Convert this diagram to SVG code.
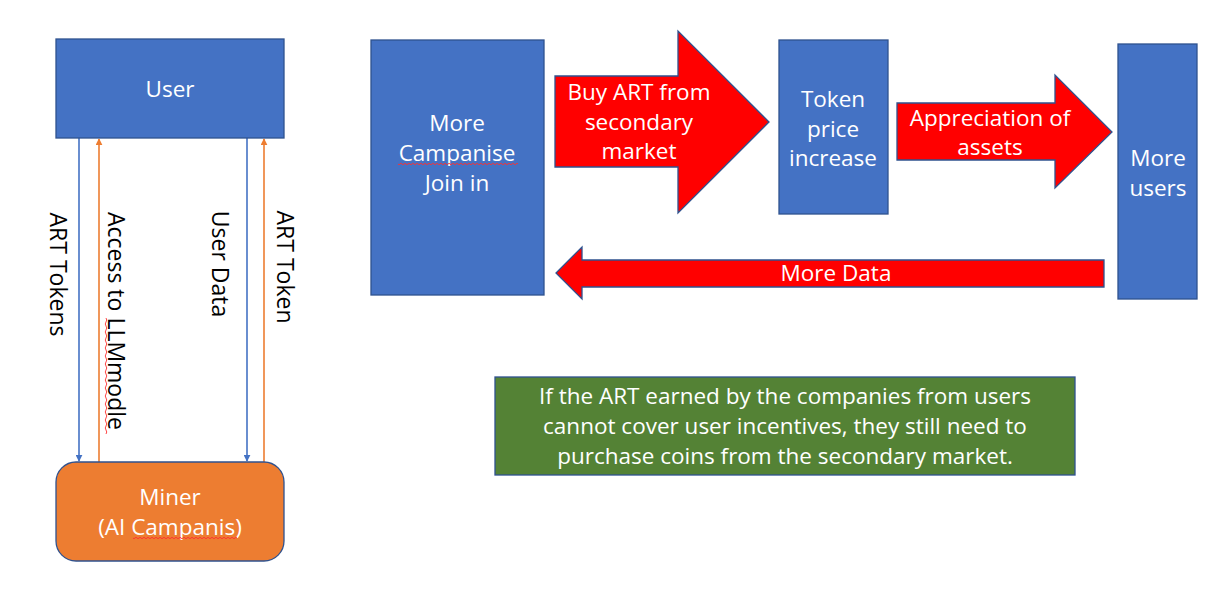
<svg xmlns="http://www.w3.org/2000/svg" width="1213" height="594" viewBox="0 0 1213 594">
<style>
.box{fill:#4472C4;stroke:#2F528F;stroke-width:1.3}
.miner{fill:#ED7D31;stroke:#2F528F;stroke-width:1.3}
.note{fill:#548235;stroke:#2F528F;stroke-width:1.3}
.red{fill:#FF0000;stroke:#2F528F;stroke-width:1.3;stroke-linejoin:miter}
.t{font-family:"Open Sans","Liberation Sans",sans-serif;font-size:22.5px;fill:#FFFFFF;text-anchor:middle}
.lbl{font-family:"Open Sans","Liberation Sans",sans-serif;font-size:23px;fill:#000000;text-anchor:middle}
.bl{stroke:#4472C4;stroke-width:1.6;fill:none}
.or{stroke:#ED7D31;stroke-width:1.6;fill:none}
.wavy{stroke:#FF3030;stroke-width:0.9;fill:none}
</style>
<defs>
<marker id="ab" viewBox="0 0 10 10" refX="9" refY="5" markerWidth="7" markerHeight="7" orient="auto" markerUnits="userSpaceOnUse"><path d="M0,0 L10,5 L0,10 z" fill="#4472C4"/></marker>
<marker id="ao" viewBox="0 0 10 10" refX="9" refY="5" markerWidth="7" markerHeight="7" orient="auto" markerUnits="userSpaceOnUse"><path d="M0,0 L10,5 L0,10 z" fill="#ED7D31"/></marker>
</defs>
<rect width="1213" height="594" fill="#FFFFFF"/>

<g id="connectors">
<line class="bl" x1="79" y1="138" x2="79" y2="461" marker-end="url(#ab)"/>
<line class="or" x1="99" y1="462" x2="99" y2="139" marker-end="url(#ao)"/>
<line class="bl" x1="247" y1="138" x2="247" y2="461" marker-end="url(#ab)"/>
<line class="or" x1="264" y1="462" x2="264" y2="139" marker-end="url(#ao)"/>
<text class="lbl" transform="translate(50,274.5) rotate(90)">ART Tokens</text>
<text class="lbl" transform="translate(108,321) rotate(90)">Access to LLMmodle</text>
<path class="wavy" d="M106,318 q1.5,2 0,4 q-1.5,2 0,4 q1.5,2 0,4 q-1.5,2 0,4 q1.5,2 0,4 q-1.5,2 0,4 q1.5,2 0,4 q-1.5,2 0,4 q1.5,2 0,4 q-1.5,2 0,4 q1.5,2 0,4 q-1.5,2 0,4 q1.5,2 0,4 q-1.5,2 0,4 q1.5,2 0,4 q-1.5,2 0,4 q1.5,2 0,4 q-1.5,2 0,4 q1.5,2 0,4 q-1.5,2 0,4 q1.5,2 0,4 q-1.5,2 0,4 q1.5,2 0,4 q-1.5,2 0,4 q1.5,2 0,4 q-1.5,2 0,4 q1.5,2 0,4 q-1.5,2 0,4 q1.5,2 0,4"/>
<text class="lbl" transform="translate(212,264) rotate(90)">User Data</text>
<text class="lbl" transform="translate(277,267) rotate(90)">ART Token</text>
</g>

<g id="user">
<rect class="box" x="56" y="39" width="228" height="99"/>
<text class="t" x="170" y="97">User</text>
</g>

<g id="miner">
<rect class="miner" x="56" y="462" width="228" height="99" rx="20" ry="20"/>
<text class="t" x="170" y="505">Miner</text>
<text class="t" x="170" y="535">(AI Campanis)</text>
<path class="wavy" d="M133,538 q1,1.5 2,0 q1,-1.5 2,0 q1,1.5 2,0 q1,-1.5 2,0 q1,1.5 2,0 q1,-1.5 2,0 q1,1.5 2,0 q1,-1.5 2,0 q1,1.5 2,0 q1,-1.5 2,0 q1,1.5 2,0 q1,-1.5 2,0 q1,1.5 2,0 q1,-1.5 2,0 q1,1.5 2,0 q1,-1.5 2,0 q1,1.5 2,0 q1,-1.5 2,0 q1,1.5 2,0 q1,-1.5 2,0 q1,1.5 2,0 q1,-1.5 2,0 q1,1.5 2,0 q1,-1.5 2,0 q1,1.5 2,0 q1,-1.5 2,0 q1,1.5 2,0 q1,-1.5 2,0 q1,1.5 2,0 q1,-1.5 2,0 q1,1.5 2,0 q1,-1.5 2,0 q1,1.5 2,0 q1,-1.5 2,0 q1,1.5 2,0 q1,-1.5 2,0 q1,1.5 2,0 q1,-1.5 2,0 q1,1.5 2,0 q1,-1.5 2,0 q1,1.5 2,0 q1,-1.5 2,0 q1,1.5 2,0 q1,-1.5 2,0 q1,1.5 2,0 q1,-1.5 2,0 q1,1.5 2,0 q1,-1.5 2,0 q1,1.5 2,0 q1,-1.5 2,0 q1,1.5 2,0 q1,-1.5 2,0"/>
</g>

<g id="campanise">
<rect class="box" x="371" y="40" width="173" height="255"/>
<text class="t" x="457" y="131">More</text>
<text class="t" x="457" y="161">Campanise</text>
<text class="t" x="457" y="191">Join in</text>
<path class="wavy" d="M398,164 q1,1.5 2,0 q1,-1.5 2,0 q1,1.5 2,0 q1,-1.5 2,0 q1,1.5 2,0 q1,-1.5 2,0 q1,1.5 2,0 q1,-1.5 2,0 q1,1.5 2,0 q1,-1.5 2,0 q1,1.5 2,0 q1,-1.5 2,0 q1,1.5 2,0 q1,-1.5 2,0 q1,1.5 2,0 q1,-1.5 2,0 q1,1.5 2,0 q1,-1.5 2,0 q1,1.5 2,0 q1,-1.5 2,0 q1,1.5 2,0 q1,-1.5 2,0 q1,1.5 2,0 q1,-1.5 2,0 q1,1.5 2,0 q1,-1.5 2,0 q1,1.5 2,0 q1,-1.5 2,0 q1,1.5 2,0 q1,-1.5 2,0 q1,1.5 2,0 q1,-1.5 2,0 q1,1.5 2,0 q1,-1.5 2,0 q1,1.5 2,0 q1,-1.5 2,0 q1,1.5 2,0 q1,-1.5 2,0 q1,1.5 2,0 q1,-1.5 2,0 q1,1.5 2,0 q1,-1.5 2,0 q1,1.5 2,0 q1,-1.5 2,0 q1,1.5 2,0 q1,-1.5 2,0 q1,1.5 2,0 q1,-1.5 2,0 q1,1.5 2,0 q1,-1.5 2,0 q1,1.5 2,0 q1,-1.5 2,0 q1,1.5 2,0 q1,-1.5 2,0 q1,1.5 2,0 q1,-1.5 2,0 q1,1.5 2,0 q1,-1.5 2,0 q1,1.5 2,0 q1,-1.5 2,0"/>
</g>

<g id="buy-arrow">
<path class="red" d="M555,76 L678,76 L678,31 L769,122 L678,213 L678,167 L555,167 Z"/>
<text class="t" x="639" y="100">Buy ART from</text>
<text class="t" x="639" y="130">secondary</text>
<text class="t" x="639" y="159">market</text>
</g>

<g id="token-price">
<rect class="box" x="779" y="40" width="109" height="174"/>
<text class="t" x="833" y="107">Token</text>
<text class="t" x="833" y="137">price</text>
<text class="t" x="833" y="166">increase</text>
</g>

<g id="appreciation-arrow">
<path class="red" d="M897,103 L1055,103 L1055,75 L1112,132 L1055,188 L1055,160 L897,160 Z"/>
<text class="t" x="990" y="126">Appreciation of</text>
<text class="t" x="990" y="155">assets</text>
</g>

<g id="more-users">
<rect class="box" x="1118" y="44" width="79" height="255"/>
<text class="t" x="1158" y="166">More</text>
<text class="t" x="1158" y="196">users</text>
</g>

<g id="more-data-arrow">
<path class="red" d="M1104,260 L582,260 L582,247 L556,273 L582,299 L582,287 L1104,287 Z"/>
<text class="t" x="836" y="281">More Data</text>
</g>

<g id="note">
<rect class="note" x="495" y="377" width="580" height="98"/>
<text class="t" x="785" y="404">If the ART earned by the companies from users</text>
<text class="t" x="785" y="434">cannot cover user incentives, they still need to</text>
<text class="t" x="785" y="464">purchase coins from the secondary market.</text>
</g>
</svg>
